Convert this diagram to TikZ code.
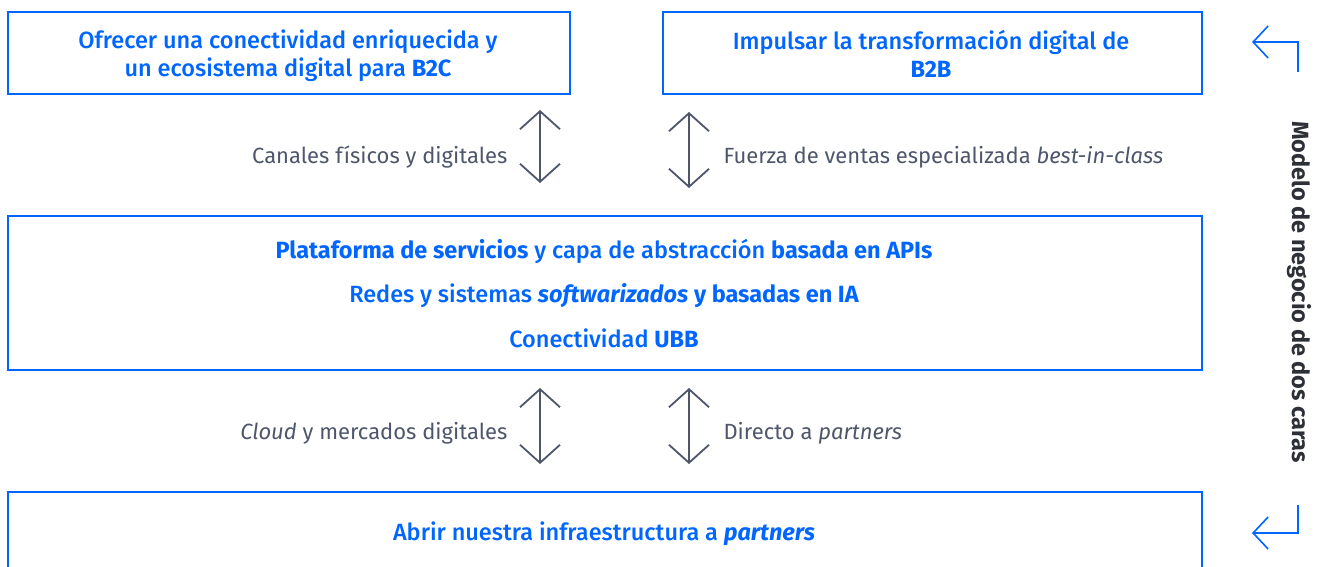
\documentclass[tikz,border=0pt]{standalone}
\usepackage{fontspec}
\setmainfont{Fira Sans}
\newfontfamily\medfont{Fira Sans Medium}[BoldFont={Fira Sans Bold},BoldItalicFont={Fira Sans Bold Italic},ItalicFont={Fira Sans Medium Italic}]
\usetikzlibrary{arrows.meta}
\definecolor{tblue}{HTML}{0066FF}
\definecolor{tgray}{HTML}{4E566B}
\definecolor{tdark}{HTML}{2E3038}
\begin{document}
\begin{tikzpicture}[x=1pt,y=-1pt,
  box/.style={draw=tblue, line width=2pt, anchor=north west, inner sep=0pt},
  btext/.style={text=tblue, font=\medfont\fontsize{23.5}{28}\selectfont, align=center},
  gtext/.style={text=tgray, font=\fontsize{22}{24}\selectfont},
  vtext/.style={text=tdark, font=\bfseries\fontsize{23.5}{24}\selectfont, rotate=-90},
  varrow/.style={draw=tgray, line width=1.8pt, {Straight Barb[length=18pt,width=40pt]}-{Straight Barb[length=18pt,width=40pt]}},
  carrow/.style={draw=tblue, line width=1.6pt, -{Straight Barb[length=15pt,width=32pt]}}]
\useasboundingbox (0,0) rectangle (1319,567);
\clip (0,0) rectangle (1319,567);
% boxes
\node[box, minimum width=562pt, minimum height=82pt] (b2c) at (7,11) {};
\node[box, minimum width=539pt, minimum height=82pt] (b2b) at (662,11) {};
\node[box, minimum width=1194pt, minimum height=154pt] (core) at (7,215) {};
\node[box, minimum width=1194pt, minimum height=120pt] (infra) at (7,491) {};
% box texts
\node[btext] (t1) at (288,56) {Ofrecer una conectividad enriquecida y\\un ecosistema digital para {\bfseries B2C}};
\node[btext] (t2) at (931,54) {Impulsar la transformación digital de\\{\bfseries B2B}};
\node[btext] (c1) at (604,251) {{\bfseries Plataforma de servicios} y capa de abstracción {\bfseries basada en APIs}};
\node[btext] (c2) at (604,296) {Redes y sistemas {\bfseries\itshape softwarizados} {\bfseries y basadas en IA}};
\node[btext] (c3) at (604,338) {Conectividad {\bfseries UBB}};
\node[btext] (t3) at (604,534) {Abrir nuestra infraestructura a {\bfseries\itshape partners}};
% arrows
\coordinate (a1t) at (540,110); \coordinate (a1b) at (540,183);
\coordinate (a2t) at (689,112); \coordinate (a2b) at (689,188);
\coordinate (a3t) at (540,388); \coordinate (a3b) at (540,464);
\coordinate (a4t) at (689,388); \coordinate (a4b) at (689,464);
\draw[varrow] (a1t) -- (a1b);
\draw[varrow] (a2t) -- (a2b);
\draw[varrow] (a3t) -- (a3b);
\draw[varrow] (a4t) -- (a4b);
% labels
\node[gtext, anchor=east] (l1) at (511,157) {Canales físicos y digitales};
\node[gtext, anchor=west] (l2) at (720,157) {Fuerza de ventas especializada \textit{best-in-class}};
\node[gtext, anchor=east] (l3) at (511,433) {\textit{Cloud} y mercados digitales};
\node[gtext, anchor=west] (l4) at (720,433) {Directo a \textit{partners}};
% side
\node[vtext] (side) at (1299,292) {Modelo de negocio de dos caras};
\coordinate (s1a) at (1298,72); \coordinate (s1b) at (1298,42); \coordinate (s1c) at (1252,42);
\coordinate (s2a) at (1298,505); \coordinate (s2b) at (1298,533); \coordinate (s2c) at (1252,533);
\draw[carrow] (s1a) -- (s1b) -- (s1c);
\draw[carrow] (s2a) -- (s2b) -- (s2c);
\end{tikzpicture}
\end{document}
